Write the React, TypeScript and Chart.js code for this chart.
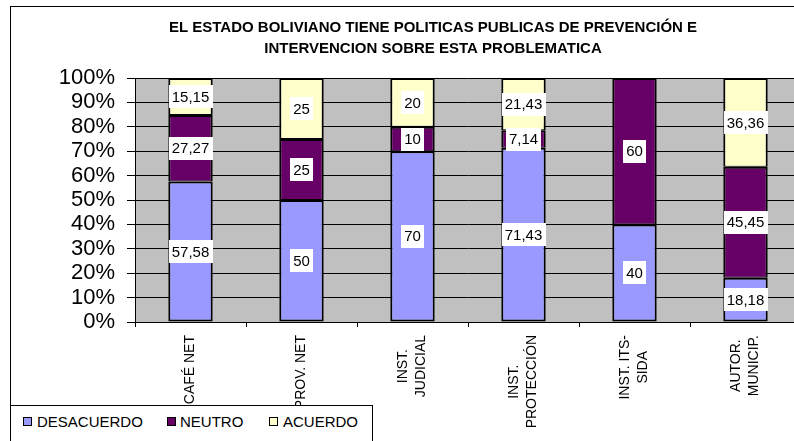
import React, { useEffect, useRef } from 'react';
import { Chart, registerables } from 'chart.js';

Chart.register(...registerables);

const TITLE = [
  'EL ESTADO BOLIVIANO TIENE POLITICAS PUBLICAS DE PREVENCIÓN E',
  'INTERVENCION SOBRE ESTA PROBLEMATICA',
];
const CATEGORIES = [
  ['CAFÉ NET'],
  ['PROV. NET'],
  ['INST.', 'JUDICIAL'],
  ['INST.', 'PROTECCIÓN'],
  ['INST. ITS-', 'SIDA'],
  ['AUTOR.', 'MUNICIP.'],
];
const DESACUERDO = [57.58, 50, 70, 71.43, 40, 18.18];
const NEUTRO = [27.27, 25, 10, 7.14, 60, 45.45];
const ACUERDO = [15.15, 25, 20, 21.43, 0, 36.36];
const SERIES_NAMES = ['DESACUERDO', 'NEUTRO', 'ACUERDO'];
const SERIES_COLORS = ['#9999FF', '#660066', '#FFFFCC'];
const Y_STEP = 10;

const FONT = "'Liberation Sans', Arial, sans-serif";

const SERIES_BORDERS = [
  { top: 2, bottom: 2, left: 2, right: 2 },
  { top: 2, bottom: 1, left: 2, right: 2 },
  { top: 2, bottom: 1, left: 2, right: 2 },
];

const bgPlugin = {
  id: 'plotBg',
  beforeDraw(chart: any) {
    const { ctx, chartArea } = chart;
    ctx.save();
    ctx.fillStyle = '#C0C0C0';
    ctx.fillRect(chartArea.left, chartArea.top, chartArea.right - chartArea.left, chartArea.bottom - chartArea.top);
    ctx.restore();
  },
};

const titlePlugin = {
  id: 'centeredTitle',
  afterDraw(chart: any) {
    const { ctx } = chart;
    ctx.save();
    ctx.font = `bold 15px ${FONT}`;
    ctx.fillStyle = '#000000';
    ctx.textAlign = 'center';
    ctx.textBaseline = 'middle';
    TITLE.forEach((line, i) => {
      ctx.fillText(line, 422, 20.5 + i * 21);
    });
    ctx.restore();
  },
};

const valueLabelPlugin = {
  id: 'valueLabels',
  afterDatasetsDraw(chart: any) {
    const { ctx } = chart;
    ctx.save();
    ctx.font = `15px ${FONT}`;
    ctx.textAlign = 'center';
    ctx.textBaseline = 'middle';
    chart.data.datasets.forEach((ds: any, di: number) => {
      const meta = chart.getDatasetMeta(di);
      meta.data.forEach((el: any, i: number) => {
        const v = ds.data[i];
        if (!v) return;
        const { x, y, base } = el.getProps(['x', 'y', 'base'], true);
        const cy = (y + base) / 2;
        const txt = String(v).replace('.', ',');
        const w = ctx.measureText(txt).width + 6;
        const h = 23;
        ctx.fillStyle = '#FFFFFF';
        ctx.fillRect(Math.round(x - w / 2), Math.round(cy - h / 2), Math.round(w), h);
        ctx.fillStyle = '#000000';
        ctx.fillText(txt, x, cy + 1);
      });
    });
    ctx.restore();
  },
};

const xLabelPlugin = {
  id: 'xLabels',
  afterDraw(chart: any) {
    const { ctx } = chart;
    const scale = chart.scales.x;
    const top = chart.chartArea.bottom + 13;
    const lineH = 18;
    ctx.save();
    ctx.font = `14px ${FONT}`;
    ctx.fillStyle = '#000000';
    ctx.textAlign = 'center';
    ctx.textBaseline = 'middle';
    (chart.data.labels as string[][]).forEach((lines, i) => {
      const cx = scale.getPixelForTick(i);
      const maxW = Math.max(...lines.map((l) => ctx.measureText(l).width));
      ctx.save();
      ctx.translate(cx, top + maxW / 2);
      ctx.rotate(-Math.PI / 2);
      lines.forEach((l, j) => {
        ctx.fillText(l, 0, (j - (lines.length - 1) / 2) * lineH);
      });
      ctx.restore();
    });
    ctx.restore();
  },
};

function ChartView() {
  const ref = useRef<HTMLCanvasElement | null>(null);
  useEffect(() => {
    if (!ref.current) return;
    const seriesData = [DESACUERDO, NEUTRO, ACUERDO];
    const chart = new Chart(ref.current, {
      type: 'bar',
      data: {
        labels: CATEGORIES as any,
        datasets: SERIES_NAMES.map((name, k) => ({
          label: name,
          data: seriesData[k],
          backgroundColor: SERIES_COLORS[k],
          borderColor: '#000000',
          borderWidth: SERIES_BORDERS[k],
          borderSkipped: false,
          categoryPercentage: 1,
          barPercentage: 0.4,
        })),
      },
      options: {
        animation: false,
        responsive: false,
        events: [],
        layout: { padding: { left: 0, right: 54, top: 71, bottom: 0 } },
        plugins: {
          legend: { display: false },
          tooltip: { enabled: false },
          title: { display: false },
        },
        scales: {
          x: {
            stacked: true,
            offset: true,
            grid: {
              display: true,
              drawOnChartArea: false,
              drawTicks: true,
              tickLength: 5,
              color: '#000000',
              offset: true,
            },
            border: { display: true, color: '#000000', width: 1 },
            ticks: { display: false },
            afterFit: (s: any) => {
              s.height = 125;
            },
          },
          y: {
            stacked: true,
            min: 0,
            max: 100,
            grid: {
              color: '#000000',
              lineWidth: 1,
              drawTicks: true,
              tickLength: 8,
            },
            border: { display: true, color: '#000000', width: 1 },
            ticks: {
              stepSize: Y_STEP,
              autoSkip: false,
              color: '#000000',
              padding: 12,
              font: { family: FONT, size: 22 },
              callback: (v: any) => `${v}%`,
            },
            afterFit: (s: any) => {
              s.width = 124;
            },
          },
        },
      },
      plugins: [bgPlugin, valueLabelPlugin, xLabelPlugin, titlePlugin],
    });
    return () => chart.destroy();
  }, []);
  return <canvas ref={ref} width={844} height={440} style={{ display: 'block' }} />;
}

const legendItems = [
  { sq: 12, tx: 26 },
  { sq: 156, tx: 169 },
  { sq: 258, tx: 272 },
];

export default function App() {
  return (
    <div
      style={{
        position: 'fixed',
        left: 0,
        top: 0,
        width: 794,
        height: 441,
        overflow: 'hidden',
        background: '#FFFFFF',
      }}
    >
      <div
        style={{
          position: 'absolute',
          left: 10,
          top: 6,
          borderLeft: '1px solid #000',
          borderTop: '1px solid #000',
        }}
      >
        <ChartView />
      </div>
      <div
        style={{
          position: 'absolute',
          left: 10,
          top: 405,
          width: 361,
          height: 60,
          border: '1px solid #000',
          background: '#FFFFFF',
          fontFamily: FONT,
          fontSize: 15,
          color: '#000',
        }}
      >
        {SERIES_NAMES.map((name, k) => (
          <React.Fragment key={name}>
            <div
              style={{
                position: 'absolute',
                left: legendItems[k].sq,
                top: 11,
                width: 7,
                height: 7,
                background: SERIES_COLORS[k],
                border: '1.5px solid #000',
              }}
            />
            <div
              style={{
                position: 'absolute',
                left: legendItems[k].tx,
                top: 7,
                lineHeight: '17px',
                whiteSpace: 'nowrap',
              }}
            >
              {name}
            </div>
          </React.Fragment>
        ))}
      </div>
    </div>
  );
}
